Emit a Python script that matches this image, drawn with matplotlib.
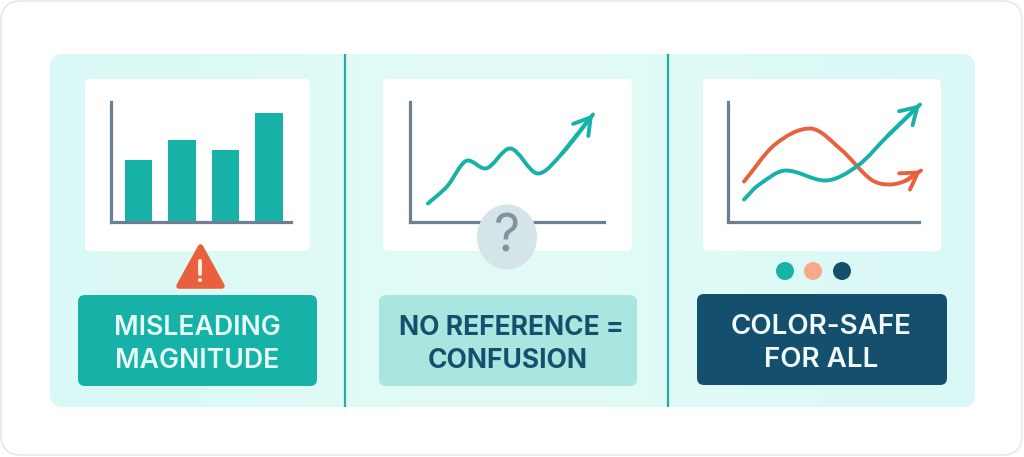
# Three mini chart cards with captions
import numpy as np
import matplotlib
matplotlib.use("Agg")
import matplotlib.pyplot as plt
from matplotlib.patches import FancyBboxPatch, Polygon, Ellipse, Circle
from matplotlib.path import Path
from matplotlib.patches import PathPatch
from matplotlib.colors import LinearSegmentedColormap

W, H = 1024, 457
TEAL = "#17b2a7"
ORANGE = "#e9603f"
NAVY = "#14506e"
AXIS = "#6e7f93"

# values are in pixels above the chart origin
bar_values = [62, 82, 72, 109]

line_x = [18, 37, 58, 75, 100, 128, 152, 183]
line_y = [18, 35, 61, 53, 73, 48, 68, 107]

orange_x = [16, 47, 82, 113, 143, 162, 178, 193]
orange_y = [40, 77, 93, 72, 42, 37, 41, 51]
safe_x = [16, 30, 58, 97, 130, 160, 192]
safe_y = [22, 36, 51, 41, 56, 86, 117]

dot_colors = [TEAL, "#f9a88f", NAVY]

captions = ["MISLEADING\nMAGNITUDE", "NO REFERENCE =\nCONFUSION", "COLOR-SAFE\nFOR ALL"]
caption_colors = [TEAL, "#aae6e0", NAVY]
caption_text = ["#e8fbf8", NAVY, "#f2fbfb"]

plt.rcParams["font.family"] = ["Inter", "DejaVu Sans"]


def pixel_axes(fig, x0, y0, x1, y1, zorder=1):
    return fig.add_axes([x0 / W, 1 - y1 / H, (x1 - x0) / W, (y1 - y0) / H], zorder=zorder)


def rounded(ax, x0, y0, x1, y1, r, **kw):
    patch = FancyBboxPatch((x0 + r, y0 + r), x1 - x0 - 2 * r, y1 - y0 - 2 * r,
                           boxstyle=f"round,pad={r},rounding_size={r}", **kw)
    ax.add_patch(patch)
    return patch


def mini_axes(fig, x0, x1):
    ax = pixel_axes(fig, x0, 101.5, x1, 221.5)
    ax.set_xlim(0, x1 - x0)
    ax.set_ylim(0, 120)
    ax.patch.set_alpha(0)
    ax.set_xticks([])
    ax.set_yticks([])
    for s in ["top", "right"]:
        ax.spines[s].set_visible(False)
    for s in ["left", "bottom"]:
        ax.spines[s].set_color(AXIS)
        ax.spines[s].set_linewidth(2.3)
    return ax


def smooth_line(ax, xs, ys, color):
    # curve through the read points, flat at peaks and dips, arrow head on the end
    x = np.array(xs, dtype=float)
    y = np.array(ys, dtype=float)
    m = np.zeros(len(x))
    m[0] = (y[1] - y[0]) / (x[1] - x[0])
    m[-1] = (y[-1] - y[-2]) / (x[-1] - x[-2])
    for i in range(1, len(x) - 1):
        if (y[i] - y[i - 1]) * (y[i + 1] - y[i]) > 0:
            m[i] = (y[i + 1] - y[i - 1]) / (x[i + 1] - x[i - 1])
    verts = [(x[0], y[0])]
    codes = [Path.MOVETO]
    for i in range(len(x) - 1):
        dx = (x[i + 1] - x[i]) / 3
        verts += [(x[i] + dx, y[i] + m[i] * dx), (x[i + 1] - dx, y[i + 1] - m[i + 1] * dx), (x[i + 1], y[i + 1])]
        codes += [Path.CURVE4] * 3
    ax.add_patch(PathPatch(Path(verts, codes), fill=False, edgecolor=color, lw=2.8,
                           capstyle="round", joinstyle="round", clip_on=False))
    ax.annotate("", xy=(x[-1], y[-1]), xytext=(x[-2], y[-2]), annotation_clip=False,
                arrowprops=dict(arrowstyle="->,head_length=1.15,head_width=0.7", color=color,
                                lw=2.8, shrinkA=0, shrinkB=0, capstyle="round", joinstyle="miter"))


fig = plt.figure(figsize=(W / 100, H / 100), dpi=100, facecolor="white")

base = pixel_axes(fig, 0, 0, W, H, zorder=0)
base.set_xlim(0, W)
base.set_ylim(H, 0)
base.axis("off")

rounded(base, 1, 1, 1022, 455, 20, facecolor="white", edgecolor="#e8e8e4", lw=1.2)

# panel with a faint left-right shading
panel = rounded(base, 50, 54, 975, 407, 13, facecolor="none", edgecolor="none")
cmap = LinearSegmentedColormap.from_list("panel", ["#daf8f5", "#e3fbf6", "#d9f8f6"])
img = base.imshow(np.linspace(0, 1, 256)[None, :], extent=(50, 975, 407, 54), cmap=cmap,
                  aspect="auto", zorder=1)
img.set_clip_path(panel)
base.set_xlim(0, W)
base.set_ylim(H, 0)

for x in [345, 668]:
    base.plot([x, x], [54, 407], color="#2aa8a2", lw=1.6, zorder=2, solid_capstyle="butt")

cards = [(85, 310), (383, 632), (703, 941)]
for x0, x1 in cards:
    rounded(base, x0, 79, x1, 251, 5, facecolor="#fefffe", edgecolor="none", zorder=2)

# bars
ax1 = mini_axes(fig, 111, 291)
ax1.bar([27.5, 71, 114.5, 158], bar_values, width=27.5, color=TEAL)

# single line
ax2 = mini_axes(fig, 410, 604)
smooth_line(ax2, line_x, line_y, TEAL)

# two lines
ax3 = mini_axes(fig, 728, 919)
smooth_line(ax3, orange_x, orange_y, ORANGE)
smooth_line(ax3, safe_x, safe_y, TEAL)

over = pixel_axes(fig, 0, 0, W, H, zorder=2)
over.set_xlim(0, W)
over.set_ylim(H, 0)
over.axis("off")

# warning sign
over.add_patch(Polygon([(200.5, 247), (179, 286), (222, 286)], closed=True, facecolor=ORANGE,
                       edgecolor=ORANGE, lw=4, joinstyle="round"))
over.plot([200, 200], [261, 274], color="#fdeee8", lw=2.8, solid_capstyle="round")
over.add_patch(Circle((200, 280), 2, facecolor="#fdeee8", edgecolor="none"))

# question mark badge
over.add_patch(Ellipse((507, 237), 60, 65, facecolor="#d5e4e8", edgecolor="none"))
over.text(507, 238, "?", ha="center", va="center", fontsize=37, color="#84929f", fontweight="normal")

# palette dots
for x, c in zip([785, 813, 842], dot_colors):
    over.add_patch(Circle((x, 271), 9, facecolor=c, edgecolor="none"))

# captions
boxes = [(78, 295, 317, 386), (379, 295, 637, 386), (697, 294, 947, 385)]
weights = ["semibold", "bold", "semibold"]
sizes = [19.2, 19, 20]
offsets = [(0, 0), (3, 0), (-1, -1)]
for (x0, y0, x1, y1), label, c, tc, wt, fs, (dx1, dx2) in zip(boxes, captions, caption_colors, caption_text,
                                                              weights, sizes, offsets):
    rounded(over, x0, y0, x1, y1, 7, facecolor=c, edgecolor="none")
    top, bottom = label.split("\n")
    xm = (x0 + x1) / 2
    over.text(xm + dx1, y0 + 33, top, ha="center", va="center", fontsize=fs, color=tc, fontweight=wt)
    over.text(xm + dx2, y0 + 66, bottom, ha="center", va="center", fontsize=fs, color=tc, fontweight=wt)

fig.savefig("out.png", dpi=100)
